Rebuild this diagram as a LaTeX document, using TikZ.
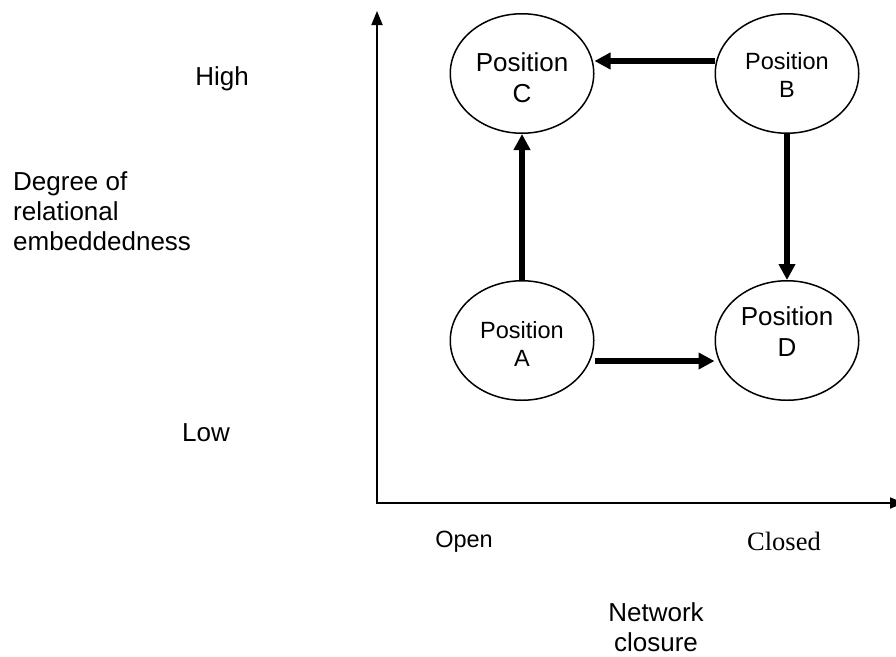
\documentclass[tikz,border=0pt]{standalone}
\usepackage{fontspec}
\setmainfont{Liberation Sans}
\newfontfamily\serifface{Liberation Serif}
\usetikzlibrary{arrows.meta,shapes.geometric}
\begin{document}
\begin{tikzpicture}[x=1pt,y=-1pt,
  bigtext/.style={font=\fontsize{26}{30}\selectfont},
  postextbig/.style={font=\fontsize{26}{31}\selectfont,align=center,inner sep=0pt},
  postextsmall/.style={font=\fontsize{23.5}{27.5}\selectfont,align=center,inner sep=0pt},
  smalltext/.style={font=\fontsize{23.5}{27}\selectfont},
  posbox/.style={ellipse,draw,line width=1.5pt,minimum width=143.5pt,minimum height=119.5pt,inner sep=0pt},
  axisline/.style={line width=1.8pt,line join=miter,{Triangle[length=14pt,width=11pt]}-{Triangle[length=14pt,width=11pt]}},
  flowarrow/.style={line width=5.5pt,-{Triangle[length=16pt,width=16pt]}},
  lbl/.style={inner sep=0pt}]
\useasboundingbox (0,0) rectangle (896,656);
% axes
\coordinate (Ytop) at (377,11);
\coordinate (O) at (377,503);
\coordinate (Xend) at (904,503);
\draw[axisline] (Ytop) -- (O) -- (Xend);
% positions
\node[posbox,label={[postextbig,yshift=-4pt]center:{Position\\C}}] (C) at (522,73.5) {};
\node[posbox,label={[postextsmall,yshift=-1.5pt]center:{Position\\B}}] (B) at (787,73.5) {};
\node[posbox,label={[postextsmall,yshift=-3.5pt]center:{Position\\A}}] (A) at (522,340.5) {};
\node[posbox,label={[postextbig,yshift=8.5pt]center:{Position\\D}}] (D) at (787,340.5) {};
% flows
\draw[flowarrow] ([yshift=12.5pt]B.west) -- ([yshift=12.5pt]C.east);
\draw[flowarrow] (A.north) -- (C.south);
\draw[flowarrow] (B.south) -- (D.north);
\draw[flowarrow] ([yshift=-20.5pt]A.east) -- ([yshift=-20.5pt]D.west);
% labels
\node[lbl,bigtext,anchor=base] (high) at (222,85.3) {High};
\node[lbl,bigtext,anchor=base] (low) at (206,441.8) {Low};
\node[lbl,bigtext,anchor=west,align=left] (deg) at (13,211) {Degree of\\relational\\embeddedness};
\node[lbl,smalltext,anchor=base] (open) at (464,547.5) {Open};
\node[lbl,anchor=base,font=\serifface\fontsize{26.5}{30}\selectfont] (closed) at (784,550) {Closed};
\node[lbl,bigtext,align=center] (net) at (656,627) {Network\\closure};
\end{tikzpicture}
\end{document}
